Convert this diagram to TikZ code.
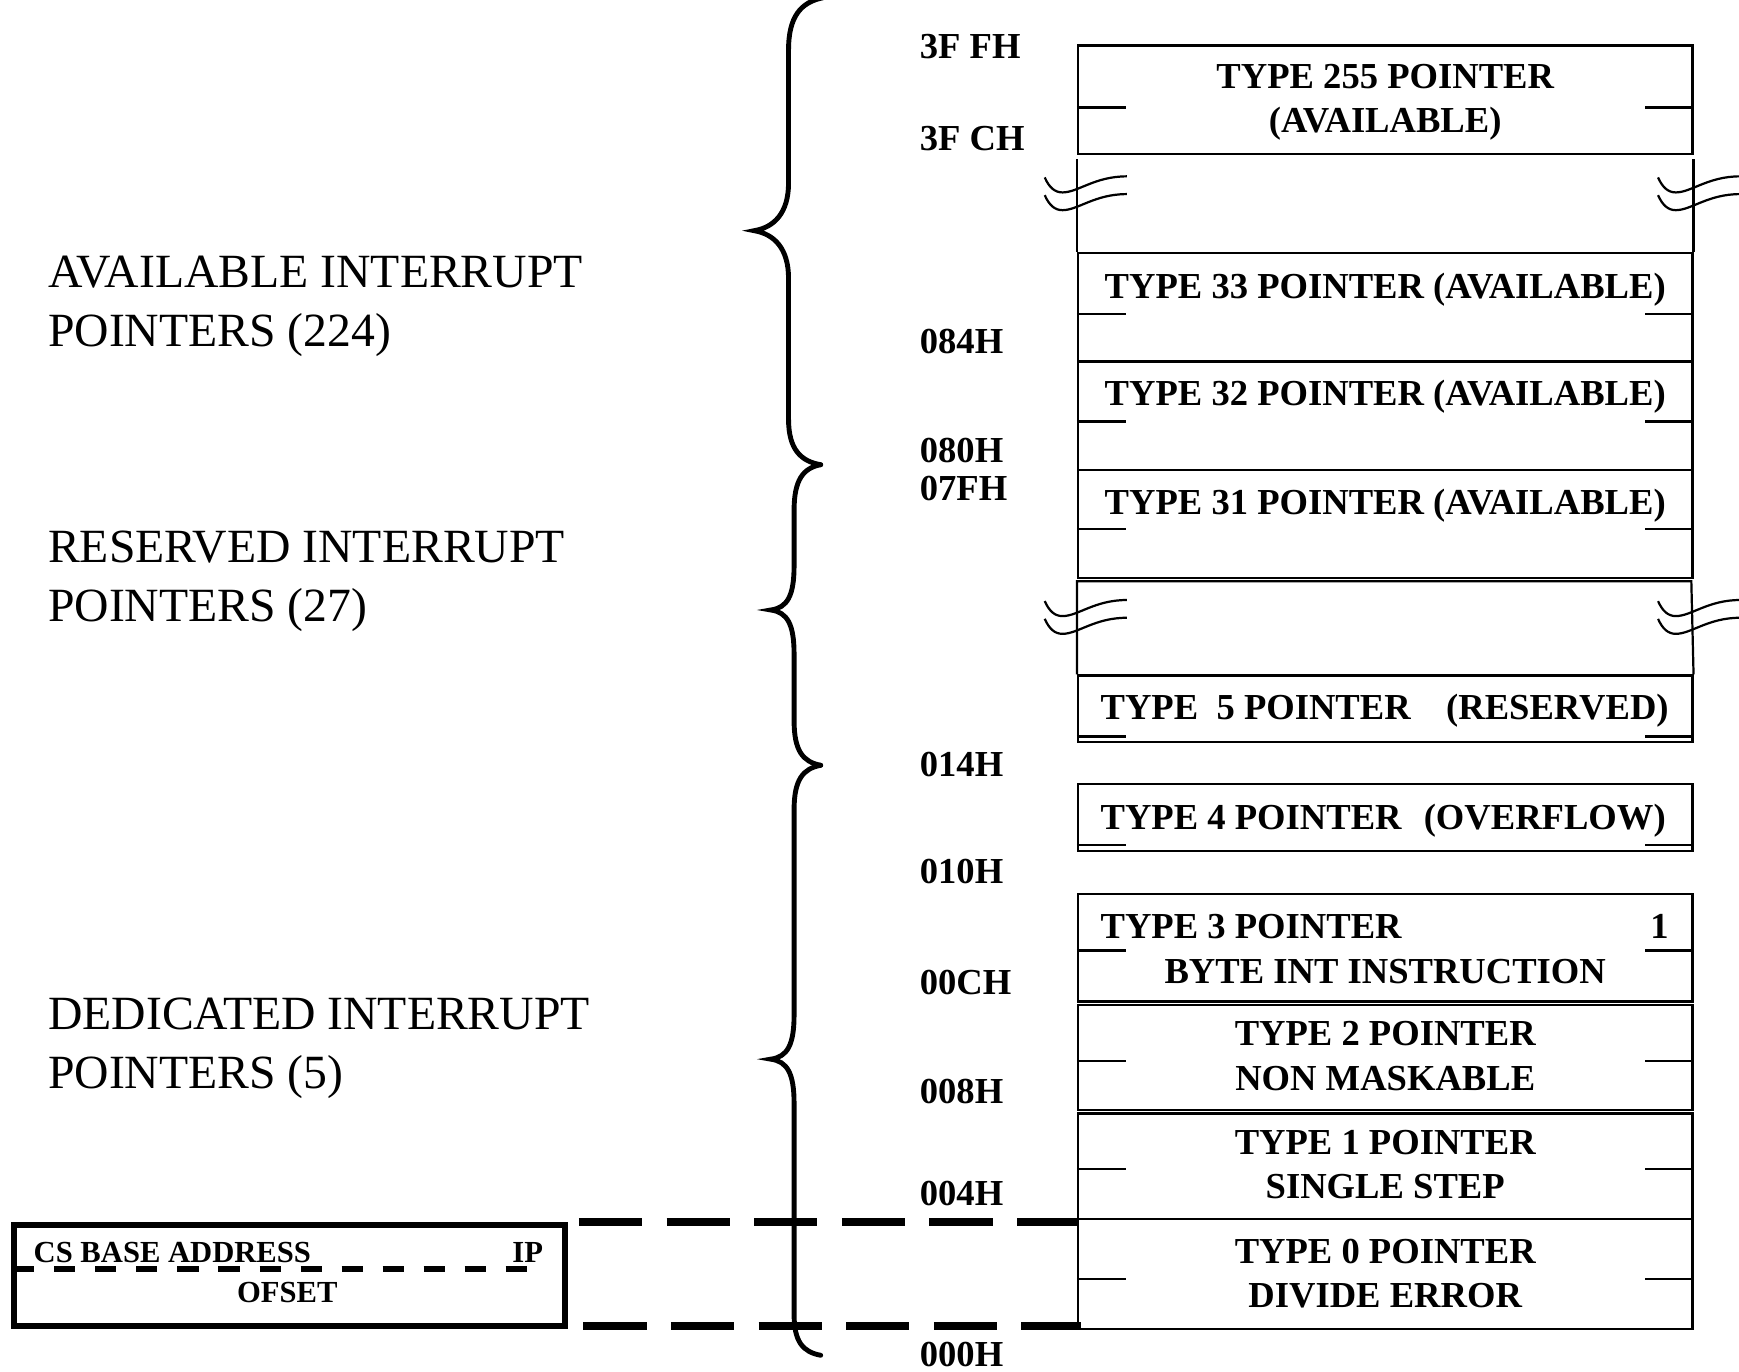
\documentclass[tikz,border=0pt]{standalone}
\usepackage{fontspec}
\setmainfont{Liberation Serif}
\usepackage{tikz}
\usetikzlibrary{positioning, calc}

\begin{document}
\begin{tikzpicture}[
x=0.5pt, y=-0.5pt,
cell/.style={draw, line width=1pt, minimum width=277pt, inner sep=0pt, anchor=north west},
cellline/.style={line width=1pt},
lbl/.style={font=\bfseries\fontsize{16.5}{19}\selectfont, inner sep=0pt, text height=10.9pt, text depth=0pt},
addr/.style={lbl, anchor=west},
grouptext/.style={font=\fontsize{21.5}{26.5}\selectfont, align=left, inner sep=0pt, anchor=west},
curly/.style={line width=2.2pt, line cap=round},
link/.style={line width=3.5pt, dash pattern=on 28.5pt off 11pt},
csbox/.style={draw, line width=2.5pt, minimum width=248.5pt, minimum height=45.5pt, inner sep=0pt, anchor=north west},
cstext/.style={font=\bfseries\fontsize{13.8}{16}\selectfont, inner sep=0pt, text height=9.1pt, text depth=0pt},
breakwave/.pic={
  \draw[cellline] (0,0) .. controls (4,9) and (9,13.5) .. (16,13.5) .. controls (30,13.5) and (45,-1) .. (74,-1);
  \draw[cellline] (0,16) .. controls (4,25) and (9,29.5) .. (16,29.5) .. controls (30,29.5) and (45,15) .. (74,15);
}
]
\useasboundingbox (0,0) rectangle (1568,1237);

% vector table cells
\node[cell, minimum height=49pt] (t255) at (971,40) {};
\node[cell, minimum height=49pt] (t33) at (971,227) {};
\node[cell, minimum height=49pt] (t32) at (971,325) {};
\node[cell, minimum height=48.5pt] (t31) at (971,423) {};
\node[cell, minimum height=30pt] (t5) at (971,608) {};
\node[cell, minimum height=30pt] (t4) at (971,706) {};
\node[cell, minimum height=48.5pt] (t3) at (971,805) {};
\node[cell, minimum height=47.5pt] (t2) at (971,905) {};
\node[cell, minimum height=47.5pt] (t1) at (971,1003) {};
\node[cell, minimum height=49.5pt] (t0) at (971,1098) {};

% open parts of the table
\draw[cellline] (t33.north west) -- ++(0,-84);
\draw[cellline] (t33.north east) -- ++(0,-84);
\draw[cellline] (t5.north west) -- ++(0,-84) -- ++(554,0) -- (t5.north east);
\foreach \y in {160,542}
  \foreach \x in {942,1495}
    \pic at (\x,\y) {breakwave};

% word marks
\foreach \b/\d in {t255/57, t33/56, t32/55, t31/54, t5/56, t4/56, t3/52, t2/52, t1/51, t0/55} {
  \draw[cellline] ($(\b.north west)+(0,\d)$) -- ++(44,0);
  \draw[cellline] ($(\b.north east)+(0,\d)$) -- ++(-44,0);
}

\node[lbl] (t255a) at ($(t255.north)+(0,29)$) {TYPE 255 POINTER};
\node[lbl] (t255b) at ($(t255.north)+(0,69)$) {(AVAILABLE)};
\node[lbl] (t33a) at ($(t33.north)+(0,31)$) {TYPE 33 POINTER (AVAILABLE)};
\node[lbl] (t32a) at ($(t32.north)+(0,30)$) {TYPE 32 POINTER (AVAILABLE)};
\node[lbl] (t31a) at ($(t31.north)+(0,30)$) {TYPE 31 POINTER (AVAILABLE)};
\node[lbl, anchor=west] (t5a) at ($(t5.north west)+(21,30)$) {TYPE\ \ 5 POINTER\hspace{16pt}(RESERVED)};
\node[lbl, anchor=west] (t4a) at ($(t4.north west)+(21,31)$) {TYPE 4 POINTER\hspace{10pt}(OVERFLOW)};
\node[lbl, anchor=west] (t3a) at ($(t3.north west)+(21,30)$) {TYPE 3 POINTER};
\node[lbl, anchor=east] (t3n) at ($(t3.north east)+(-22,30)$) {1};
\node[lbl] (t3b) at ($(t3.north)+(0,71)$) {BYTE INT INSTRUCTION};
\node[lbl] (t2a) at ($(t2.north)+(0,27)$) {TYPE 2 POINTER};
\node[lbl] (t2b) at ($(t2.north)+(0,67)$) {NON MASKABLE};
\node[lbl] (t1a) at ($(t1.north)+(0,27)$) {TYPE 1 POINTER};
\node[lbl] (t1b) at ($(t1.north)+(0,67)$) {SINGLE STEP};
\node[lbl] (t0a) at ($(t0.north)+(0,30)$) {TYPE 0 POINTER};
\node[lbl] (t0b) at ($(t0.north)+(0,70)$) {DIVIDE ERROR};

% addresses
\foreach \n/\t/\y in {a3ff/3F FH/42, a3fc/3F CH/125, a084/084H/308, a080/080H/406, a07f/07FH/440, a014/014H/689, a010/010H/786, a00c/00CH/886, a008/008H/984, a004/004H/1076, a000/000H/1221}
  \node[addr] (\n) at (829,\y) {\t};

% groups
\node[grouptext] (avail) at (43,276) {AVAILABLE INTERRUPT\\POINTERS (224)};
\node[grouptext] (resv) at (43,524) {RESERVED INTERRUPT\\POINTERS (27)};
\node[grouptext] (dedic) at (43,945) {DEDICATED INTERRUPT\\POINTERS (5)};

\draw[curly] (742,-2) .. controls (722,2) and (711,15) .. (711,45) -- (711,165)
  .. controls (711,192) and (698,205) .. (680,208) .. controls (698,211) and (711,224) .. (711,251)
  -- (711,378) .. controls (711,405) and (722,416) .. (740,419);
\draw[curly] (740,419) .. controls (724,422) and (716,433) .. (716,460) -- (716,510)
  .. controls (716,537) and (710,548) .. (695,550) .. controls (710,552) and (716,563) .. (716,590)
  -- (716,650) .. controls (716,677) and (724,687) .. (740,690);
\draw[curly] (740,690) .. controls (724,693) and (716,703) .. (716,730) -- (716,915)
  .. controls (716,942) and (710,953) .. (695,955) .. controls (710,957) and (716,968) .. (716,995)
  -- (716,1185) .. controls (716,1210) and (724,1219) .. (740,1222);

% CS:IP entry
\node[csbox] (cs) at (10,1102) {};
\draw[line width=2.5pt, dash pattern=on 9.5pt off 9pt] (12,1144) -- (490,1144);
\node[cstext, anchor=base west] (csa) at (30,1138) {CS BASE ADDRESS};
\node[cstext, anchor=base east] (ip) at (490,1138) {IP};
\node[cstext] (ofs) at (259,1165) {OFSET};

\coordinate (lk1) at ($(cs.north east)+(10,0)$);
\coordinate (lk2) at ($(cs.south east)+(14,-2.5)$);
\draw[link] (lk1) -- (lk1 -| t0.west);
\draw[link] (lk2) -- ($(lk2 -| t0.west)+(4,0)$);
\end{tikzpicture}
\end{document}
